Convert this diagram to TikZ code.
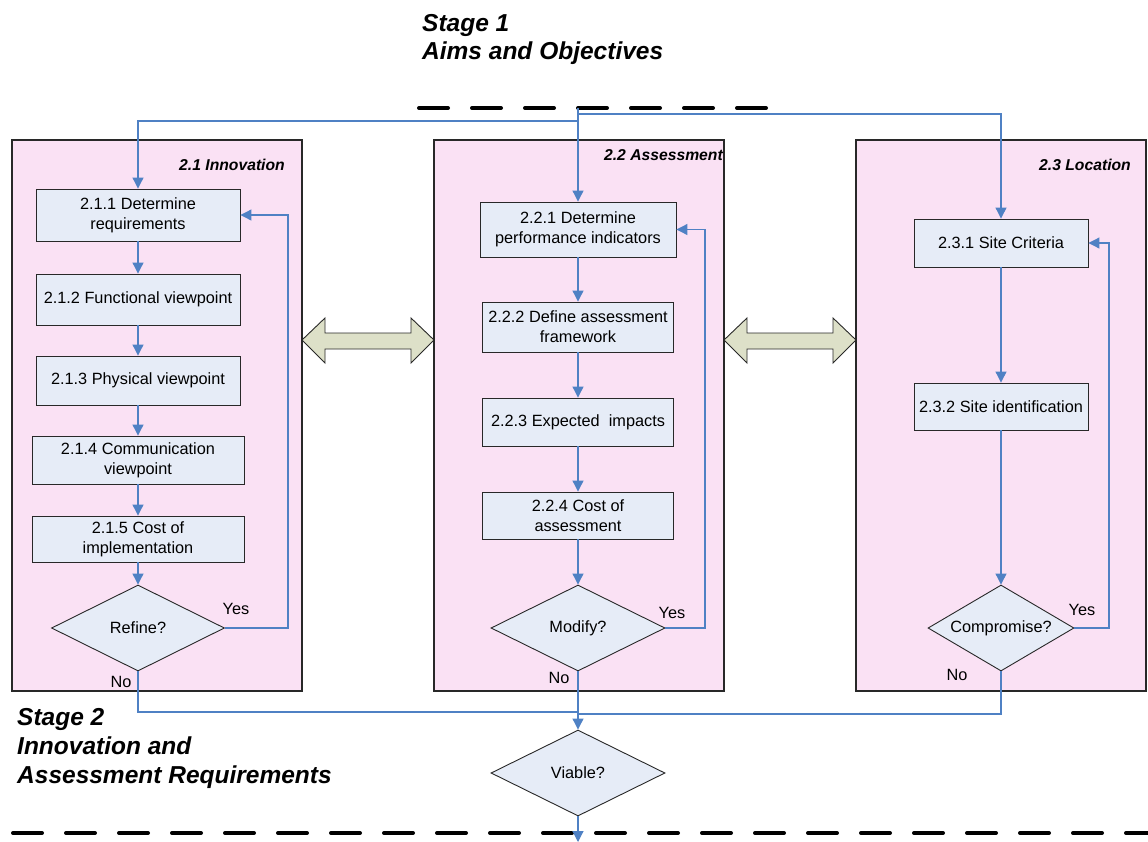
\documentclass[tikz,border=0pt]{standalone}
\usepackage{fontspec}
\setmainfont{Liberation Sans}
\usetikzlibrary{shapes.geometric,arrows.meta}
\definecolor{panelpink}{RGB}{250,225,244}
\definecolor{boxblue}{RGB}{230,236,247}
\definecolor{linkblue}{RGB}{79,129,196}
\definecolor{blockfill}{RGB}{221,224,200}
\definecolor{edgegray}{RGB}{40,40,40}
\tikzset{
  panel/.style={draw=edgegray, fill=panelpink, line width=1.1pt, minimum width=290pt, minimum height=551pt, inner sep=0pt},
  procbox/.style={draw=edgegray, fill=boxblue, line width=0.9pt, align=center, inner sep=0pt,
    font=\fontsize{16.3}{20}\selectfont},
  decis/.style={diamond, draw=edgegray, fill=boxblue, line width=0.9pt, inner sep=0pt, aspect=2,
    font=\fontsize{16.3}{20}\selectfont},
  conn/.style={draw=linkblue, line width=1.1pt},
  connarr/.style={conn, -{Triangle[width=11pt,length=11pt]}, shorten >=0pt},
  paneltitle/.style={font=\fontsize{15.7}{19}\selectfont\bfseries\itshape, inner sep=0pt},
  stagetext/.style={font=\fontsize{24.5}{28}\selectfont\bfseries\itshape, inner sep=0pt},
  lbl/.style={font=\fontsize{16.3}{20}\selectfont, inner sep=0pt},
  stagedash/.style={line width=4pt, line cap=round, dash pattern=on 29pt off 24pt},
  blockarrow/.style={draw=edgegray, fill=blockfill, line width=0.9pt, line join=miter}
}
\begin{document}
\begin{tikzpicture}[x=1pt,y=-1pt]
\useasboundingbox (0,0) rectangle (1148,841);

% stage headings
\node[stagetext, anchor=base west] (st1a) at (422,31) {Stage 1};
\node[stagetext, anchor=base west] (st1b) at (422,59) {Aims and Objectives};
\node[stagetext, anchor=base west] (st2a) at (17,725) {Stage 2};
\node[stagetext, anchor=base west] (st2b) at (17,754) {Innovation and};
\node[stagetext, anchor=base west] (st2c) at (17,783) {Assessment Requirements};

% dashed stage separators
\draw[stagedash] (419,108) -- (768,108);
\draw[stagedash] (13,833) -- (1148,833);

% panels
\node[panel] (pA) at (157,415.5) {};
\node[panel] (pB) at (579,415.5) {};
\node[panel] (pC) at (1001,415.5) {};
\node[paneltitle, anchor=base east] (tA) at (285,170) {2.1 Innovation};
\node[paneltitle, anchor=base east] (tB) at (723,160) {2.2 Assessment};
\node[paneltitle, anchor=base east] (tC) at (1131,170) {2.3 Location};

% block double arrows
\draw[blockarrow] (302,340) -- (325,318) -- (325,333) -- (411,333) -- (411,318) -- (434,340)
  -- (411,363) -- (411,349) -- (325,349) -- (325,363) -- cycle;
\draw[blockarrow] (724,340) -- (747,318) -- (747,333) -- (833,333) -- (833,318) -- (856,340)
  -- (833,363) -- (833,349) -- (747,349) -- (747,363) -- cycle;

% column 1
\node[procbox, minimum width=204pt, minimum height=52pt] (b211) at (138,215) {2.1.1 Determine\\requirements};
\node[procbox, minimum width=204pt, minimum height=51pt] (b212) at (138,299.5) {2.1.2 Functional viewpoint};
\node[procbox, minimum width=204pt, minimum height=49pt] (b213) at (138,380.5) {2.1.3 Physical viewpoint};
\node[procbox, minimum width=212pt, minimum height=48pt] (b214) at (138,460) {2.1.4 Communication\\viewpoint};
\node[procbox, minimum width=212pt, minimum height=46pt] (b215) at (138,539) {2.1.5 Cost of\\implementation};
\node[decis, minimum width=173pt, minimum height=86pt] (d1) at (138,628) {Refine?};

% column 2
\node[procbox, minimum width=196pt, minimum height=55pt] (b221) at (578,229.5) {2.2.1 Determine\\performance indicators};
\node[procbox, minimum width=191pt, minimum height=50pt] (b222) at (578,327) {2.2.2 Define assessment\\framework};
\node[procbox, minimum width=191pt, minimum height=48pt] (b223) at (578,422) {2.2.3 Expected\ \ impacts};
\node[procbox, minimum width=191pt, minimum height=47pt] (b224) at (578,515.5) {2.2.4 Cost of\\assessment};
\node[decis, minimum width=174pt, minimum height=86pt] (d2) at (578,628) {Modify?};
\node[decis, minimum width=174pt, minimum height=86pt] (dv) at (578,773) {Viable?};

% column 3
\node[procbox, minimum width=174pt, minimum height=48pt] (b231) at (1001,243) {2.3.1 Site Criteria};
\node[procbox, minimum width=174pt, minimum height=47pt] (b232) at (1001,406.5) {2.3.2 Site identification};
\node[decis, minimum width=146pt, minimum height=86pt] (d3) at (1001,628) {Compromise?};

% coordinates for junctions
\coordinate (s1) at (578,108);
\coordinate (jl) at (578,121);
\coordinate (jr) at (578,114);
\coordinate (y1) at (288,215);
\coordinate (y2) at (705,229.5);
\coordinate (y3) at (1109,243);
\coordinate (jb) at (578,712);
\coordinate (jb2) at (578,714);
\coordinate (endc) at (578,842);

% top distribution
\draw[connarr] (s1) -- (b221.north);
\draw[connarr] (jl) -| (b211.north);
\draw[connarr] (jr) -| (b231.north);

% column flows
\draw[connarr] (b211) -- (b212);
\draw[connarr] (b212) -- (b213);
\draw[connarr] (b213) -- (b214);
\draw[connarr] (b214) -- (b215);
\draw[connarr] (b215) -- (d1);
\draw[connarr] (b221) -- (b222);
\draw[connarr] (b222) -- (b223);
\draw[connarr] (b223) -- (b224);
\draw[connarr] (b224) -- (d2);
\draw[connarr] (b231) -- (b232);
\draw[connarr] (b232) -- (d3);

% yes loops
\draw[connarr] (d1.east) -| (y1) -- (b211.east);
\draw[connarr] (d2.east) -| (y2) -- (b221.east);
\draw[connarr] (d3.east) -| (y3) -- (b231.east);

% no paths
\draw[conn] (d1.south) |- (jb);
\draw[conn] (d3.south) |- (jb2);
\draw[connarr] (d2.south) -- (dv.north);
\draw[connarr] (dv.south) -- (endc);

% labels
\node[lbl] (yes1) at (236,609) {Yes};
\node[lbl] (no1) at (121,682) {No};
\node[lbl] (yes2) at (672,613) {Yes};
\node[lbl] (no2) at (559,678) {No};
\node[lbl] (yes3) at (1082,610) {Yes};
\node[lbl] (no3) at (957,675) {No};
\end{tikzpicture}
\end{document}
